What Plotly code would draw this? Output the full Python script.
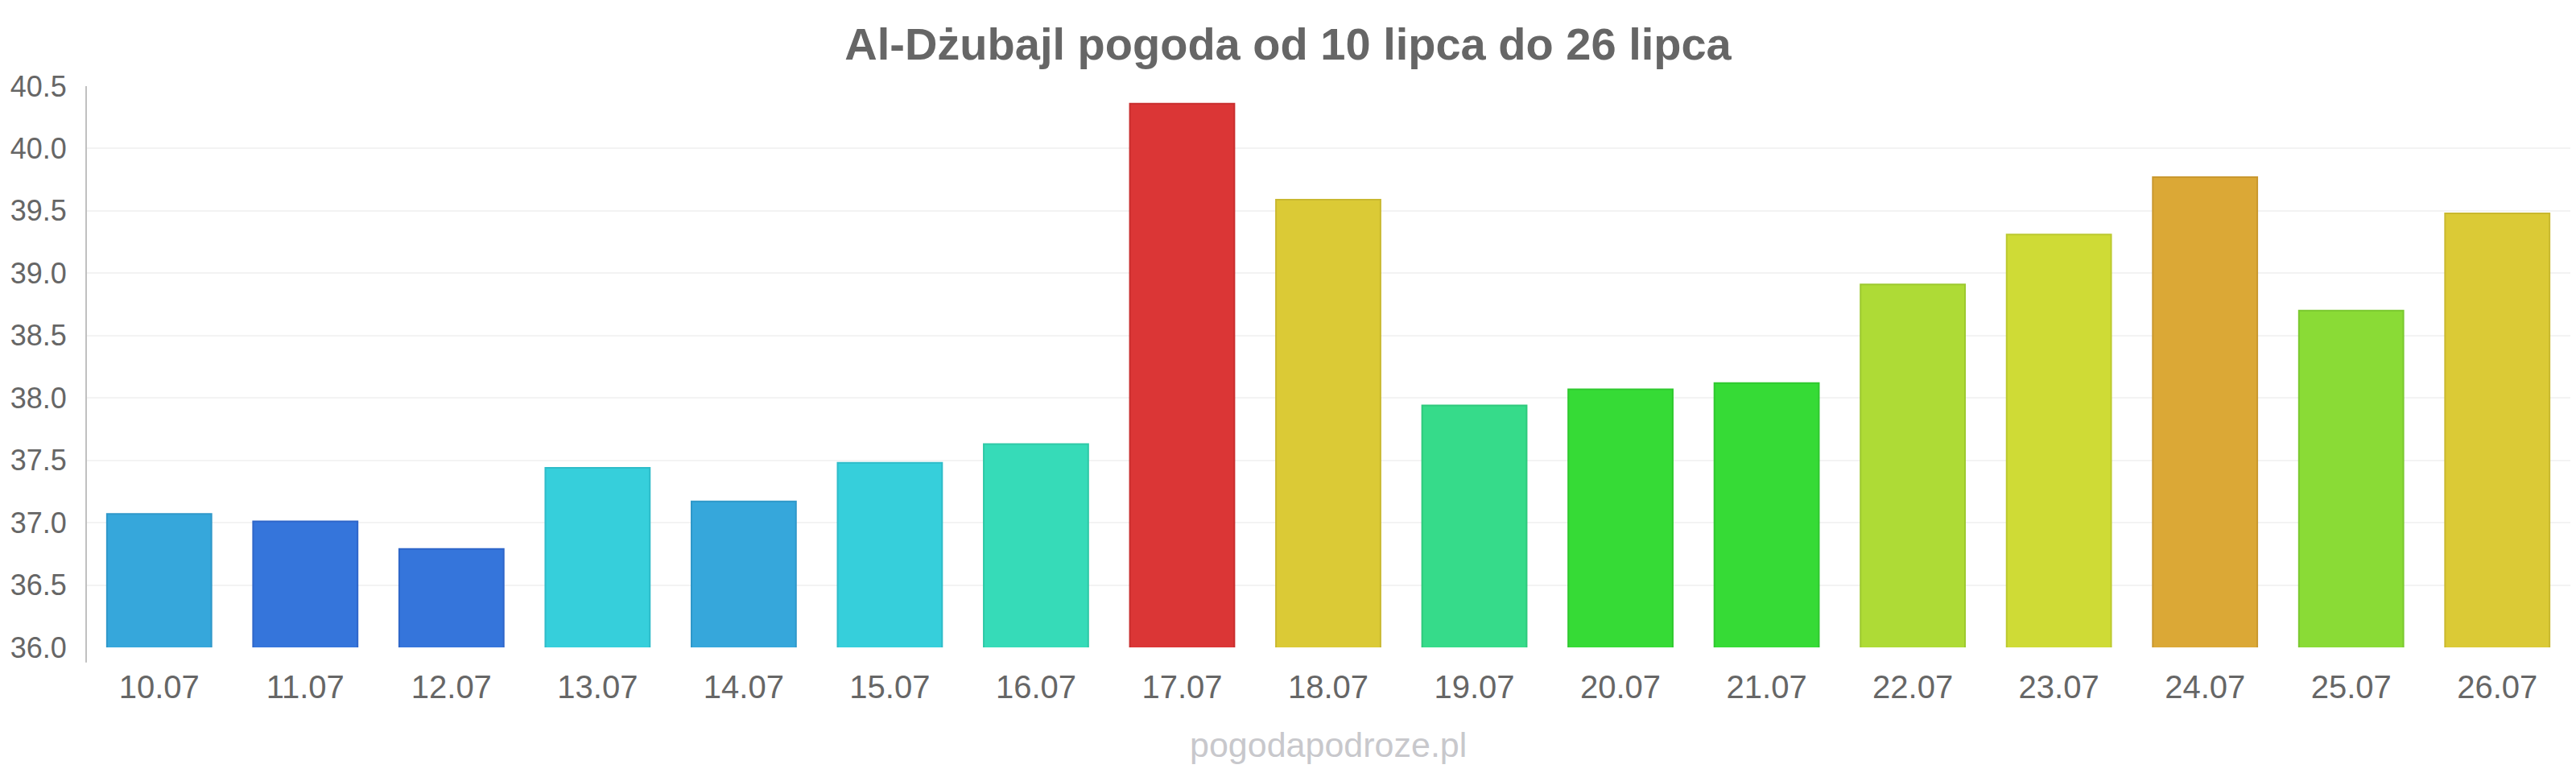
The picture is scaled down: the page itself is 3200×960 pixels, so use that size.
import plotly.graph_objects as go

dates = ["10.07", "11.07", "12.07", "13.07", "14.07", "15.07", "16.07", "17.07", "18.07",
         "19.07", "20.07", "21.07", "22.07", "23.07", "24.07", "25.07", "26.07"]
temps = [37.07, 37.01, 36.79, 37.44, 37.17, 37.48, 37.63, 40.36, 39.59,
         37.94, 38.07, 38.12, 38.91, 39.31, 39.77, 38.70, 39.48]
colors = ["#36a7db", "#3575db", "#3575db", "#36cfdb", "#36a7db", "#36cfdb", "#36dbb8", "#db3636", "#dbca36",
          "#36db8a", "#36db36", "#36db36", "#aedb36", "#cfdb36", "#dba836", "#8adb36", "#dbca36"]
borders = ["#2f98c9", "#2f66c9", "#2f66c9", "#2fbcc9", "#2f98c9", "#2fbcc9", "#2fc9a6", "#c92f2f", "#c9b82f",
           "#2fc97c", "#2fc92f", "#2fc92f", "#9dc92f", "#bcc92f", "#c9982f", "#7bc92f", "#c9b82f"]
y_ticks = [36.0, 36.5, 37.0, 37.5, 38.0, 38.5, 39.0, 39.5, 40.0, 40.5]

title_text = "Al-Dżubajl pogoda od 10 lipca do 26 lipca"
watermark = "pogodapodroze.pl"

font = "Liberation Sans, Arial, sans-serif"

fig = go.Figure()
fig.add_trace(go.Bar(
    x=dates, y=temps,
    marker=dict(color=colors, line=dict(color=borders, width=2)),
    hoverinfo="x+y",
))

fig.update_layout(
    width=3200, height=960,
    margin=dict(l=107, r=7, t=107, b=156),
    paper_bgcolor="white", plot_bgcolor="white",
    bargap=0.285,
    showlegend=False,
    title=dict(text="<b>" + title_text + "</b>", x=0.5, xanchor="center",
               y=1 - 54 / 960, yref="container", yanchor="middle",
               font=dict(family=font, size=56, color="#666666")),
    font=dict(family=font, color="#666666"),
    xaxis=dict(
        type="category", showgrid=False, zeroline=False, showline=False,
        ticks="outside", ticklen=14, tickcolor="rgba(0,0,0,0)",
        tickfont=dict(size=40, color="#666666"),
    ),
    yaxis=dict(
        range=[36.0, 40.5], tickvals=y_ticks,
        ticktext=[f"{v:.1f}" for v in y_ticks],
        showgrid=True, gridcolor="#f3f3f3", gridwidth=2, zeroline=False,
        showline=False,
        ticks="outside", ticklen=16, tickcolor="rgba(0,0,0,0)",
        tickfont=dict(size=36, color="#666666"),
    ),
    annotations=[dict(text=watermark, x=0.5, xref="paper", y=-0.173, yref="paper",
                      xanchor="center", yanchor="middle", showarrow=False,
                      font=dict(family=font, size=43, color="#c8c8cc"))],
    shapes=[dict(type="line", xref="paper", yref="paper", x0=0, x1=0, y0=-0.027, y1=1,
                 line=dict(color="#c0c0c0", width=2))],
)

fig.write_html("out.html")
